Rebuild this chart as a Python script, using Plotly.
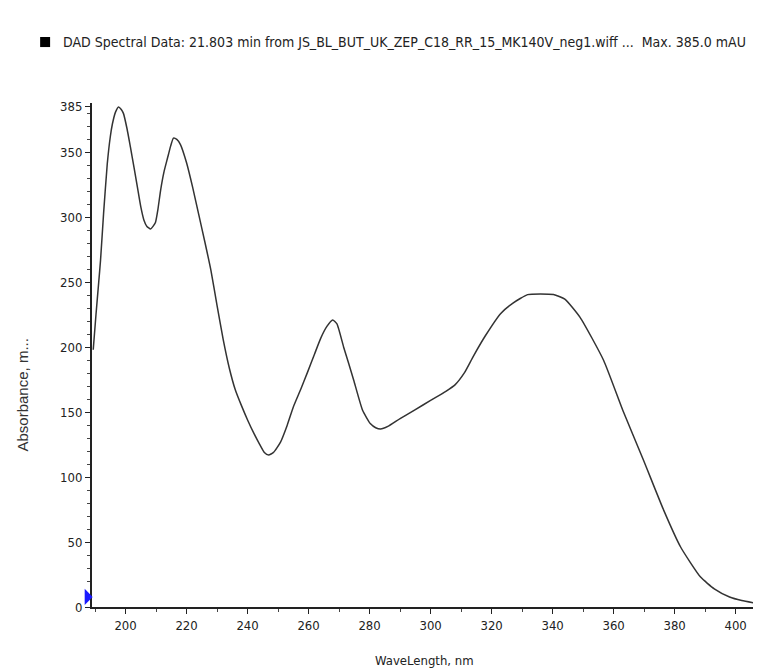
import plotly.graph_objects as go

wavelength = [189.4, 190.3, 191.2, 191.8, 192.8, 194.0, 195.0, 195.7, 196.7, 197.7, 198.6, 199.3,
              200.5, 201.6, 202.8, 203.9, 205.0, 206.0, 207.0, 208.2, 209.0, 209.8, 210.6, 211.5,
              212.6, 213.8, 214.8, 215.7, 216.8, 218.0, 220.0, 222.0, 224.0, 226.0, 228.0,
              230.0, 232.0, 234.0, 236.0, 238.0, 240.0, 242.0, 244.0, 245.5, 246.9, 248.5, 250.8,
              253.0, 255.0, 257.5, 259.7, 262.0, 264.0, 266.0, 267.9, 269.3, 271.5, 273.2, 274.8,
              277.7, 280.3, 282.0, 283.6, 286.0, 290.0, 295.0, 300.0, 305.0, 308.0, 311.0, 314.0,
              318.0, 323.0, 327.0, 331.8, 336.0, 340.3, 344.0, 349.0, 356.7, 363.0, 369.8, 376.4,
              382.0, 388.5, 393.0, 398.0, 402.0, 406.5]
absorbance = [198, 225, 250, 267, 303, 341, 362, 372, 381, 385, 383, 380,
              368, 354, 338, 323, 308, 298, 293, 291, 293, 296, 306, 321,
              335, 346, 355, 361, 360, 356, 342, 323, 302, 281, 259,
              232, 206, 184, 167, 155, 144, 134, 125, 119, 117, 119, 127,
              140, 154, 168, 181, 195, 207, 216, 221, 218, 200, 187, 174.6,
              151.5, 141, 138, 137, 139, 145, 152, 159, 166, 171, 180, 193,
              209, 226, 234, 240.5, 241, 240.5, 237, 223, 190, 151.5, 113, 74.6,
              46, 23, 14, 7.7, 5, 3]

x_ticks = [200, 220, 240, 260, 280, 300, 320, 340, 360, 380, 400]
y_ticks = [0, 50, 100, 150, 200, 250, 300, 350, 385]

title_text = "DAD Spectral Data: 21.803 min from JS_BL_BUT_UK_ZEP_C18_RR_15_MK140V_neg1.wiff ...  Max. 385.0 mAU"
narrow = "DejaVu Sans Condensed, Liberation Sans Narrow, sans-serif"

fig = go.Figure()
fig.add_trace(go.Scatter(x=wavelength, y=absorbance, mode="lines",
                         line=dict(color="#333333", width=1.5, shape="spline", smoothing=0.5),
                         hoverinfo="x+y", showlegend=False))

# page has an 8px body margin, so margins are offset accordingly
fig.update_layout(
    width=761, height=670,
    margin=dict(l=84, r=12, t=95, b=71),
    paper_bgcolor="white", plot_bgcolor="white",
    font=dict(family=narrow, size=13, color="#222222"),
    xaxis=dict(range=[189, 407], tickvals=x_ticks, ticks="outside", ticklen=5, tickwidth=1,
               tickcolor="#222", showline=True, linecolor="#222", linewidth=2,
               showgrid=False, zeroline=False,
               tickfont=dict(family=narrow, size=13, color="#222"),
               minor=dict(dtick=10, tick0=0, ticks="outside", ticklen=3, tickcolor="#444", showgrid=False)),
    yaxis=dict(range=[0, 388], tickvals=y_ticks, ticks="outside", ticklen=5, tickwidth=1,
               tickcolor="#222", showline=True, linecolor="#222", linewidth=2,
               showgrid=False, zeroline=False,
               tickfont=dict(family=narrow, size=13, color="#222"),
               minor=dict(dtick=10, tick0=0, ticks="outside", ticklen=3, tickcolor="#444", showgrid=False)),
    shapes=[
        dict(type="rect", xref="paper", yref="paper",
             x0=-0.078, x1=-0.063, y0=1.111, y1=1.131,
             fillcolor="black", line=dict(width=0)),
        dict(type="path", xref="paper", yref="paper",
             path="M -0.011,0.036 L -0.011,0.004 L 0.001,0.020 Z",
             fillcolor="#1a1aff", line=dict(width=0)),
    ],
    annotations=[
        dict(text=title_text, xref="paper", yref="paper", x=-0.047, y=1.121,
             xanchor="left", yanchor="middle", showarrow=False,
             font=dict(family=narrow, size=14, color="#222")),
        dict(text="Absorbance, m...", xref="paper", yref="paper", x=-0.105, y=0.42,
             xanchor="center", yanchor="middle", textangle=-90, showarrow=False,
             font=dict(family="Liberation Sans, Arial, sans-serif", size=15, color="#333")),
        dict(text="WaveLength, nm", xref="paper", yref="paper", x=0.5, y=-0.107,
             xanchor="center", yanchor="middle", showarrow=False,
             font=dict(family=narrow, size=13, color="#222")),
    ],
)

fig.write_html("out.html")
